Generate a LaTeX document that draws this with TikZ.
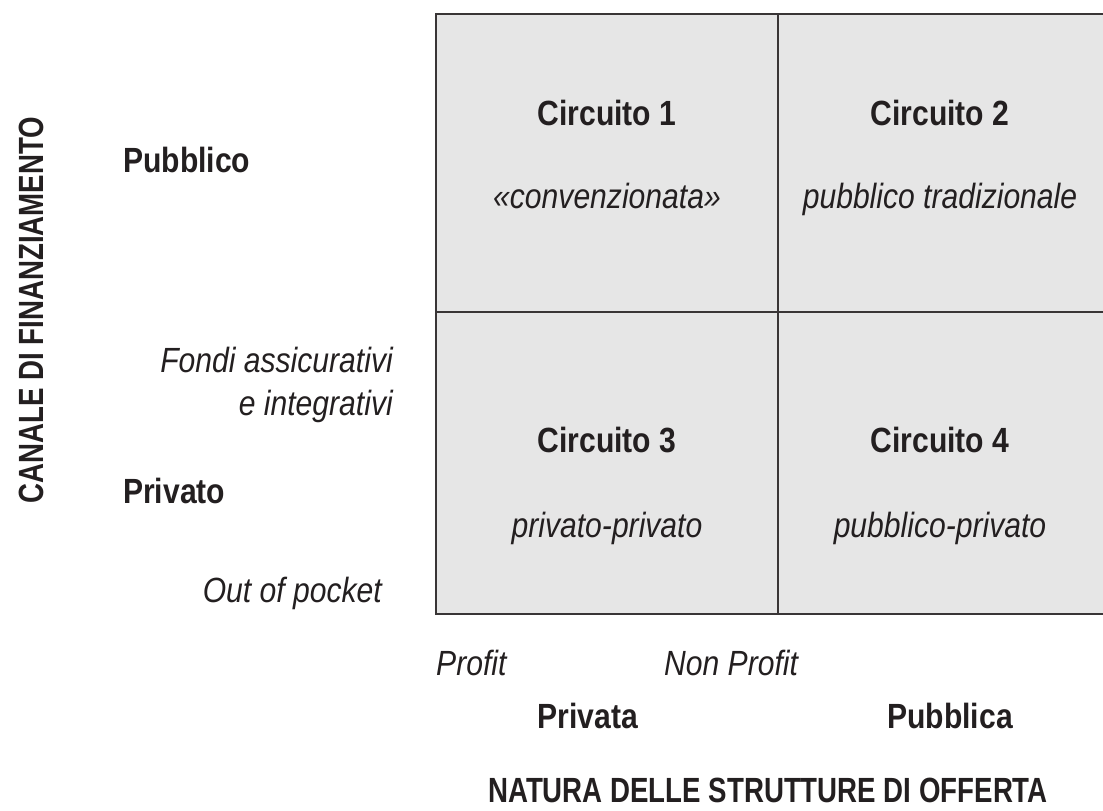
\documentclass[tikz,border=0pt]{standalone}
\usepackage{fontspec}
\setmainfont{Liberation Sans}[FakeStretch=0.86]
\newfontfamily\titlefont{Liberation Sans}[FakeStretch=0.79]
\usetikzlibrary{positioning}
\definecolor{cellgray}{HTML}{E6E6E6}
\definecolor{ink}{HTML}{231F20}
\tikzstyle{circuit} = [font=\fontsize{35}{40}\selectfont\bfseries, text=ink, anchor=base, inner sep=0pt]
\tikzstyle{kind} = [font=\fontsize{35}{40}\selectfont\itshape, text=ink, anchor=base, inner sep=0pt]
\tikzstyle{axislabel} = [font=\fontsize{35}{40}\selectfont\titlefont\bfseries, text=ink, inner sep=0pt]
\tikzstyle{gridline} = [line width=2.6pt, draw=ink!90]

\begin{document}
\begin{tikzpicture}[x=1pt, y=-1pt]
        \useasboundingbox (0,0) rectangle (1103,811);
        % cells
        \coordinate (tl) at (436,14);
        \coordinate (tm) at (778,14);
        \coordinate (tr) at (1103,14);
        \coordinate (ml) at (436,312);
        \coordinate (mr) at (1103,312);
        \coordinate (bl) at (436,614);
        \coordinate (bm) at (778,614);
        \coordinate (br) at (1103,614);
        \fill [cellgray] (tl) rectangle (br);
        \draw [gridline] (tr) -- (tl) -- (bl) -- (br);
        \draw [gridline] (tm) -- (bm);
        \draw [gridline] (ml) -- (mr);
        \node (c1) [circuit] at (607,125) {Circuito 1};
        \node (k1) [kind] at (607,208) {«convenzionata»};
        \node (c2) [circuit] at (940,125) {Circuito 2};
        \node (k2) [kind] at (940,208) {pubblico tradizionale};
        \node (c3) [circuit] at (607,452) {Circuito 3};
        \node (k3) [kind] at (607,537) {privato-privato};
        \node (c4) [circuit] at (940,452) {Circuito 4};
        \node (k4) [kind] at (940,537) {pubblico-privato};
        % financing channel
        \node (pub) [circuit, anchor=base west] at (123,172) {Pubblico};
        \node (fondi) [kind, anchor=base east] at (393,372) {Fondi assicurativi};
        \node (integr) [kind, anchor=base east] at (393,415) {e integrativi};
        \node (priv) [circuit, anchor=base west] at (123,503) {Privato};
        \node (pocket) [kind, anchor=base east] at (382,602) {Out of pocket};
        \node (canale) [axislabel, rotate=90, anchor=base] at (43,310) {CANALE DI FINANZIAMENTO};
        % supply structures
        \node (profit) [kind, anchor=base west] at (436,675) {Profit};
        \node (nonprofit) [kind, anchor=base west] at (664,675) {Non Profit};
        \node (privata) [circuit] at (588,728) {Privata};
        \node (pubblica) [circuit] at (950,728) {Pubblica};
        \node (natura) [axislabel, anchor=base] at (768,802) {NATURA DELLE STRUTTURE DI OFFERTA};
    \end{tikzpicture}
\end{document}
